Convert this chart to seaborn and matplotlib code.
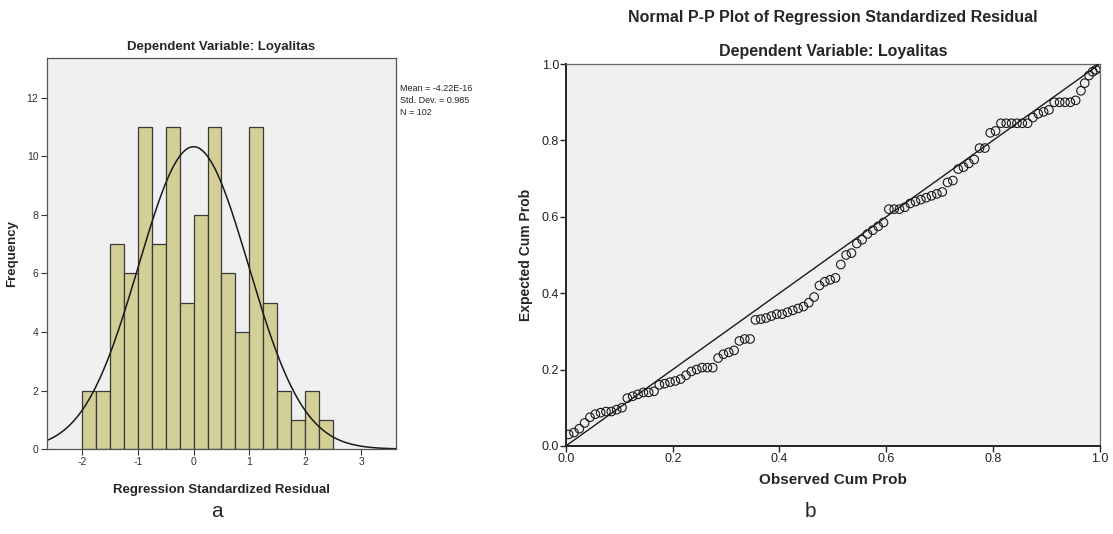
import numpy as np
import pandas as pd
import matplotlib.pyplot as plt
import seaborn as sns

# histogram of standardized residuals (bin width 0.25, from -2 to 2.5)
bin_edges = [-2.0, -1.75, -1.5, -1.25, -1.0, -0.75, -0.5, -0.25, 0.0, 0.25,
             0.5, 0.75, 1.0, 1.25, 1.5, 1.75, 2.0, 2.25, 2.5]
bin_counts = [2, 2, 7, 6, 11, 7, 11, 5, 8, 11, 6, 4, 11, 5, 2, 1, 2, 1]
resid_mean = -4.22e-16
resid_sd = 0.985
n_obs = 102

# P-P plot points (observed vs expected cumulative probability)
observed_cp = [0.005, 0.015, 0.025, 0.035, 0.045, 0.055, 0.065, 0.075, 0.085, 0.095, 0.105,
               0.115, 0.125, 0.135, 0.145, 0.155, 0.165,
               0.175, 0.185, 0.195, 0.205, 0.215, 0.225, 0.235, 0.245, 0.255, 0.265, 0.275,
               0.285, 0.295, 0.305, 0.315,
               0.325, 0.335, 0.345,
               0.355, 0.365, 0.375, 0.385, 0.395, 0.405, 0.415, 0.425, 0.435, 0.445, 0.455, 0.465,
               0.475, 0.485, 0.495, 0.505,
               0.515, 0.525, 0.535,
               0.545, 0.555, 0.565, 0.575, 0.585, 0.595,
               0.605, 0.615, 0.625, 0.635, 0.645, 0.655, 0.665, 0.675, 0.685, 0.695, 0.705,
               0.715, 0.725,
               0.735, 0.745, 0.755, 0.765,
               0.775, 0.785,
               0.795, 0.805,
               0.815, 0.825, 0.835, 0.845, 0.855, 0.865,
               0.875, 0.885, 0.895, 0.905,
               0.915, 0.925, 0.935, 0.945, 0.955,
               0.965, 0.972, 0.98, 0.987, 0.993, 1.0]
expected_cp = [0.03, 0.035, 0.045, 0.06, 0.075, 0.083, 0.087, 0.09, 0.09, 0.095, 0.10,
               0.125, 0.13, 0.135, 0.14, 0.14, 0.143,
               0.16, 0.163, 0.167, 0.17, 0.175, 0.185, 0.195, 0.20, 0.205, 0.205, 0.205,
               0.23, 0.24, 0.245, 0.25,
               0.275, 0.28, 0.28,
               0.33, 0.332, 0.335, 0.34, 0.345, 0.345, 0.35, 0.355, 0.36, 0.365, 0.375, 0.39,
               0.42, 0.43, 0.435, 0.44,
               0.475, 0.50, 0.505,
               0.53, 0.54, 0.555, 0.565, 0.575, 0.585,
               0.62, 0.62, 0.62, 0.625, 0.635, 0.64, 0.645, 0.65, 0.655, 0.66, 0.665,
               0.69, 0.695,
               0.725, 0.73, 0.74, 0.75,
               0.78, 0.78,
               0.82, 0.825,
               0.845, 0.845, 0.845, 0.845, 0.845, 0.845,
               0.86, 0.87, 0.875, 0.88,
               0.90, 0.90, 0.90, 0.90, 0.905,
               0.93, 0.95, 0.97, 0.98, 0.985, 0.99]

sns.set_style("white")
plt.rcParams["font.family"] = ["Liberation Sans", "DejaVu Sans"]
plt.rcParams["axes.unicode_minus"] = False

fig = plt.figure(figsize=(11.13, 5.34), dpi=100)
ax1 = fig.add_axes([0.042, 0.159, 0.314, 0.732])
ax2 = fig.add_axes([0.5085, 0.165, 0.4795, 0.715])

panel_bg = "#F0F0F0"
bar_color = "#D3CF97"

# --- left: histogram with normal curve ---
centers = [(bin_edges[i] + bin_edges[i + 1]) / 2 for i in range(len(bin_counts))]
hist_df = pd.DataFrame({"resid": centers, "count": bin_counts})
sns.histplot(data=hist_df, x="resid", weights="count", bins=bin_edges, ax=ax1,
             color=bar_color, alpha=1.0, edgecolor="#3a3a3a", linewidth=0.9)

xs = np.linspace(-2.63, 3.63, 300)
width = bin_edges[1] - bin_edges[0]
curve = n_obs * width * np.exp(-0.5 * ((xs - resid_mean) / resid_sd) ** 2) / (resid_sd * np.sqrt(2 * np.pi))
sns.lineplot(x=xs, y=curve, ax=ax1, color="#1a1a1a", linewidth=1.1)

ax1.set_facecolor(panel_bg)
ax1.set_xlim(-2.63, 3.63)
ax1.set_ylim(0, 13.35)
ax1.set_xticks([-2, -1, 0, 1, 2, 3])
ax1.set_yticks([0, 2, 4, 6, 8, 10, 12])
ax1.tick_params(axis="both", direction="out", length=4, width=0.8, labelsize=7.5,
                colors="#333333", left=True, bottom=True, pad=2)
for s in ax1.spines.values():
    s.set_color("#555555")
    s.set_linewidth(0.9)
ax1.set_xlabel("Regression Standardized Residual", fontsize=9.5, fontweight="bold", labelpad=12)
ax1.set_ylabel("Frequency", fontsize=9.5, fontweight="bold", labelpad=6)
ax1.set_title("Dependent Variable: Loyalitas", fontsize=9.5, fontweight="bold", pad=6)
fig.text(0.3595, 0.843, "Mean = -4.22E-16", fontsize=6.5, va="top", color="#222222")
fig.text(0.3595, 0.820, f"Std. Dev. = {resid_sd}", fontsize=6.5, va="top", color="#222222")
fig.text(0.3595, 0.797, f"N = {n_obs}", fontsize=6.5, va="top", color="#222222")
fig.text(0.195, 0.025, "a", fontsize=15, ha="center", va="bottom")

# --- right: normal P-P plot ---
pp_df = pd.DataFrame({"obs": observed_cp, "exp": expected_cp})
sns.lineplot(x=[0, 1], y=[0, 1], ax=ax2, color="#1a1a1a", linewidth=1.0)
sns.scatterplot(data=pp_df, x="obs", y="exp", ax=ax2, marker="o", s=38,
                facecolor="none", edgecolor="#1a1a1a", linewidth=0.8, zorder=3)

ax2.set_facecolor(panel_bg)
ax2.set_xlim(0, 1)
ax2.set_ylim(0, 1)
ticks = [0.0, 0.2, 0.4, 0.6, 0.8, 1.0]
ax2.set_xticks(ticks)
ax2.set_yticks(ticks)
ax2.set_xticklabels([f"{t:.1f}" for t in ticks])
ax2.set_yticklabels([f"{t:.1f}" for t in ticks])
ax2.tick_params(axis="both", direction="out", length=4, width=1.0, labelsize=9,
                colors="#222222", left=True, bottom=True, pad=1)
for side in ["left", "bottom"]:
    ax2.spines[side].set_color("#222222")
    ax2.spines[side].set_linewidth(1.4)
for side in ["top", "right"]:
    ax2.spines[side].set_color("#666666")
    ax2.spines[side].set_linewidth(0.9)
ax2.set_xlabel("Observed Cum Prob", fontsize=11, fontweight="bold", labelpad=6)
ax2.set_ylabel("Expected Cum Prob", fontsize=10, fontweight="bold", labelpad=6)
ax2.set_title("Dependent Variable: Loyalitas", fontsize=11.5, fontweight="bold", pad=6)
fig.text(0.748, 0.968, "Normal P-P Plot of Regression Standardized Residual",
         fontsize=11.5, fontweight="bold", ha="center", va="center")
fig.text(0.728, 0.025, "b", fontsize=15, ha="center", va="bottom")

fig.savefig("out.png", dpi=100, facecolor="white")
